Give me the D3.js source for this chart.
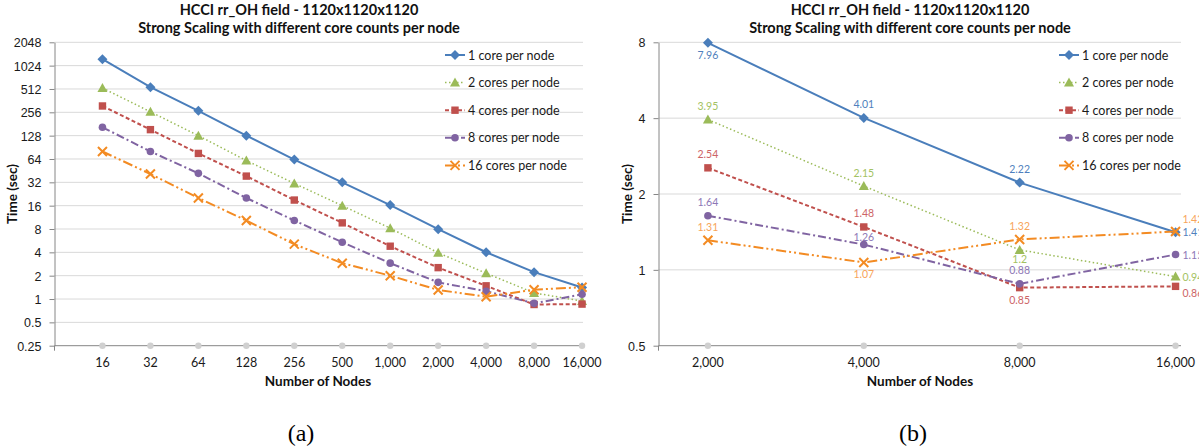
<!DOCTYPE html>
<html>
<head>
<meta charset="utf-8">
<script src="https://cdn.jsdelivr.net/npm/d3@7"></script>
<style>
	body { margin: 0; background: #fff; }
	svg { display: block; font-family: Lato, "Open Sans", sans-serif; }
	.grid line { stroke: #d9d9d9; stroke-width: 1; }
	.axis path, .axis line { stroke: #868686; }
	.axis text { fill: #1a1a1a; font-size: 12.5px; }
	.title { font-weight: bold; font-size: 14.5px; fill: #111; text-anchor: middle; }
	.axis-title { font-weight: bold; font-size: 13.5px; fill: #111; text-anchor: middle; }
	.legend text { font-size: 12.5px; fill: #1a1a1a; }
	.dlabel { font-size: 10.5px; }
	.caption { font-family: "Liberation Serif", "DejaVu Serif", serif; font-size: 24px; text-anchor: middle; }
</style>
</head>
<body>
<svg id="chart" width="1199" height="448"></svg>
<script>
// categories (number of nodes)
let nodes		= ['16', '32', '64', '128', '256', '500', '1,000', '2,000', '4,000', '8,000', '16,000'];

// time (sec) per core count
let core1		= [1240, 540, 268, 128, 63, 32, 16.3, 7.96, 4.01, 2.22, 1.41];
let core2		= [527, 260, 128, 61, 31, 16, 8.2, 3.95, 2.15, 1.2, 0.94];
let core4		= [309, 153, 75.5, 38.5, 18.9, 9.6, 4.8, 2.54, 1.48, 0.85, 0.86];
let core8		= [164, 80, 41.8, 20.1, 10.3, 5.4, 2.9, 1.64, 1.26, 0.88, 1.15];
let core16		= [80, 41, 20.1, 10.3, 5.1, 2.9, 2.0, 1.31, 1.07, 1.32, 1.42];

let seriesNames	= ['1 core per node', '2 cores per node', '4 cores per node', '8 cores per node', '16 cores per node'];

// y tick labels
let ticksA		= [0.25, 0.5, 1, 2, 4, 8, 16, 32, 64, 128, 256, 512, 1024, 2048];
let ticksB		= [0.5, 1, 2, 4, 8];

// panel (b) shows only the last four node counts
let firstB		= 7;

// where each data label of panel (b) sits
let labelPos	= [
	['below', 'above', 'above', 'right'],
	['above', 'above', 'belowNear', 'right'],
	['above', 'above', 'below', 'rightDown'],
	['above', 'aboveNear', 'above', 'right'],
	['above', 'below', 'above', 'rightUp']
];
let labelOffset	= {
	above:		[0, -9.5, 'middle'],
	aboveNear:	[0, -4, 'middle'],
	below:		[0, 16, 'middle'],
	belowNear:	[0, 13, 'middle'],
	right:		[7, 4, 'start'],
	rightUp:	[7, -8, 'start'],
	rightDown:	[7, 11, 'start']
};

let styles = [
	{ color: '#4a7ebb', label: '#4f7fbd', dash: null,            width: 2,   marker: 'diamond' },
	{ color: '#9bbb59', label: '#a3c262', dash: '1.5,2.5',       width: 1.5, marker: 'triangle' },
	{ color: '#c0504d', label: '#cd6466', dash: '4,2.5',         width: 2,   marker: 'square' },
	{ color: '#8064a2', label: '#8d77b6', dash: '8,3,2,3',       width: 2,   marker: 'circle' },
	{ color: '#f38b23', label: '#f7a45a', dash: '10,3,2,3,2,3',  width: 2,   marker: 'cross' }
];

let allSeries	= [core1, core2, core4, core8, core16];

let svg = d3.select('#chart');

function drawMarker(g, kind, color) {
	if (kind === 'diamond') {
		g.append('path').attr('d', 'M0,-5L5,0L0,5L-5,0Z').attr('fill', color);
	} else if (kind === 'triangle') {
		g.append('path').attr('d', 'M0,-5L5,4L-5,4Z').attr('fill', color);
	} else if (kind === 'square') {
		g.append('rect').attr('x', -3.7).attr('y', -3.7).attr('width', 7.4).attr('height', 7.4).attr('fill', color);
	} else if (kind === 'circle') {
		g.append('circle').attr('r', 3.8).attr('fill', color);
	} else {
		g.append('path').attr('d', 'M-4.5,-4.5L4.5,4.5M-4.5,4.5L4.5,-4.5').attr('stroke', color).attr('stroke-width', 2);
	}
}

function drawPanel(p) {
	let g = svg.append('g');

	let x = d3.scaleLinear().domain(p.xDomain).range([p.left, p.right]);
	let y = d3.scaleLog().base(2).domain([p.ticks[0], p.ticks[p.ticks.length - 1]]).range([p.bottom, p.top]);

	// gridlines
	g.append('g').attr('class', 'grid')
		.selectAll('line').data(p.ticks.slice(1)).enter().append('line')
			.attr('x1', p.left).attr('x2', p.right)
			.attr('y1', (d) => y(d)).attr('y2', (d) => y(d));

	// y axis
	g.append('g')
		.attr('class', 'axis')
		.attr('transform', 'translate(' + p.left + ',0)')
		.call(d3.axisLeft(y).tickValues(p.ticks).tickFormat((d) => String(d)).tickSize(5).tickSizeOuter(0).tickPadding(8))
		.call((a) => a.selectAll('text').attr('dy', '0.35em'));

	// x axis line + category dots
	g.append('line')
		.attr('x1', p.left).attr('x2', p.right)
		.attr('y1', p.bottom).attr('y2', p.bottom)
		.attr('stroke', '#868686');
	g.append('line')
		.attr('x1', p.left).attr('x2', p.left)
		.attr('y1', p.bottom).attr('y2', p.bottom + 5)
		.attr('stroke', '#868686');

	g.selectAll('.cat-dot').data(p.cats).enter().append('circle')
		.attr('class', 'cat-dot')
		.attr('cx', (d, i) => x(i)).attr('cy', p.bottom)
		.attr('r', 3.2).attr('fill', '#d0d0d0');

	g.selectAll('.cat-label').data(p.cats).enter().append('text')
		.attr('class', 'cat-label')
		.attr('x', (d, i) => x(i)).attr('y', p.bottom + 21)
		.attr('text-anchor', 'middle')
		.attr('font-size', '12.5px').attr('fill', '#1a1a1a')
		.text((d) => d);

	// titles
	g.append('text').attr('class', 'title').attr('x', p.titleX).attr('y', 15).text('HCCI rr_OH field - 1120x1120x1120');
	g.append('text').attr('class', 'title').attr('x', p.titleX).attr('y', 33).text('Strong Scaling with different core counts per node');
	g.append('text').attr('class', 'axis-title').attr('x', p.xTitleX).attr('y', 386).text('Number of Nodes');
	g.append('text').attr('class', 'axis-title')
		.attr('transform', 'translate(' + p.yTitleX + ',' + ((p.top + p.bottom) / 2) + ') rotate(-90)')
		.text('Time (sec)');

	// series
	let line = d3.line().x((d, i) => x(i)).y((d) => y(d));

	p.series.forEach((vals, s) => {
		let st = styles[s];
		g.append('path')
			.attr('d', line(vals))
			.attr('fill', 'none')
			.attr('stroke', st.color)
			.attr('stroke-width', st.width)
			.attr('stroke-dasharray', st.dash);

		vals.forEach((v, i) => {
			let m = g.append('g').attr('transform', 'translate(' + x(i) + ',' + y(v) + ')');
			drawMarker(m, st.marker, st.color);
		});

		if (p.labels) {
			vals.forEach((v, i) => {
				let off = labelOffset[labelPos[s][i]];
				g.append('text').attr('class', 'dlabel')
					.attr('x', x(i) + off[0]).attr('y', y(v) + off[1])
					.attr('text-anchor', off[2])
					.attr('fill', st.label)
					.text(String(v));
			});
		}
	});

	// legend
	let lg = g.append('g').attr('class', 'legend');
	seriesNames.forEach((name, s) => {
		let st = styles[s];
		let ly = 55 + s * 27.6;
		lg.append('line')
			.attr('x1', p.legendX).attr('x2', p.legendX + 20)
			.attr('y1', ly).attr('y2', ly)
			.attr('stroke', st.color).attr('stroke-width', st.width)
			.attr('stroke-dasharray', st.dash);
		let m = lg.append('g').attr('transform', 'translate(' + (p.legendX + 10) + ',' + ly + ')');
		drawMarker(m, st.marker, st.color);
		lg.append('text').attr('x', p.legendX + 23).attr('y', ly + 4.5).text(name);
	});

	svg.append('text').attr('class', 'caption').attr('x', p.captionX).attr('y', 441).text(p.caption);
}

drawPanel({
	cats: nodes,
	series: allSeries,
	ticks: ticksA,
	xDomain: [-1, 10.02],
	left: 54.5, right: 583, top: 42.3, bottom: 345.7,
	titleX: 299, xTitleX: 318, yTitleX: 17,
	legendX: 445, labels: false,
	caption: '(a)', captionX: 301
});

drawPanel({
	cats: nodes.slice(firstB),
	series: allSeries.map((a) => a.slice(firstB)),
	ticks: ticksB,
	xDomain: [-0.317, 3.035],
	left: 658.5, right: 1181, top: 42.3, bottom: 345.7,
	titleX: 910, xTitleX: 920, yTitleX: 632,
	legendX: 1059, labels: true,
	caption: '(b)', captionX: 913
});
</script>
</body>
</html>
